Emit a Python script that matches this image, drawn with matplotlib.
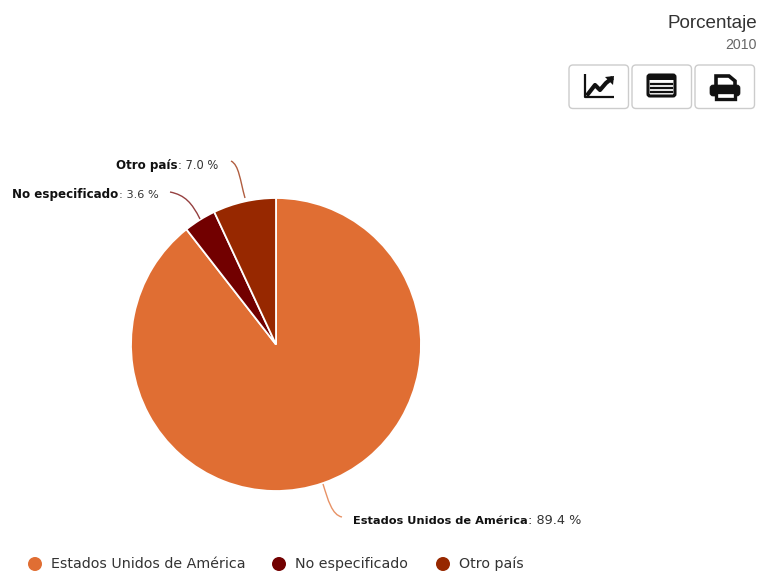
import matplotlib
matplotlib.use("Agg")
import matplotlib.pyplot as plt
from matplotlib.patches import Circle, FancyBboxPatch, PathPatch, Polygon, Rectangle
from matplotlib.path import Path

categories = ["Estados Unidos de América", "No especificado", "Otro país"]
values = [89.4, 3.6, 7.0]
colors = ["#E06E33", "#720000", "#972800"]
title = "Porcentaje"
year = "2010"

W, H = 757, 571
fig = plt.figure(figsize=(W / 100, H / 100), dpi=100)

# pixel overlay for text, buttons and connectors
ov = fig.add_axes([0, 0, 1, 1], zorder=2)
ov.set_xlim(0, W)
ov.set_ylim(H, 0)
ov.axis("off")

cx, cy, rx, ry = 276, 344.5, 145, 146.5
pie_ax = fig.add_axes([(cx - rx) / W, 1 - (cy + ry) / H, 2 * rx / W, 2 * ry / H], zorder=1)
pie_ax.pie(values, colors=colors, startangle=90, counterclock=False, radius=1,
           wedgeprops={"edgecolor": "white", "linewidth": 1.3})
pie_ax.set_aspect("auto")
pie_ax.set_xlim(-1, 1)
pie_ax.set_ylim(-1, 1)


def connector(pts, color):
    codes = [Path.MOVETO, Path.CURVE4, Path.CURVE4, Path.CURVE4]
    ov.add_patch(PathPatch(Path(pts, codes), fc="none", ec=color, lw=1, alpha=0.75))


def pct_label(x, y, name, val, size, val_size):
    t = ov.text(x, y, name, fontsize=size, fontweight="bold", family="DejaVu Sans",
                color="#111111", va="center", ha="left")
    ext = t.get_window_extent(fig.canvas.get_renderer())
    ov.text(ext.x1 + 0.5, y, ": %.1f %%" % val, fontsize=val_size, family="DejaVu Sans",
            color="#333333", va="center", ha="left")


connector([(231, 161), (239, 165), (240, 180), (245, 198)], colors[2])
connector([(170, 192), (185, 195), (192, 203), (200, 219)], colors[1])
connector([(323, 484), (328, 500), (332, 515), (342, 517)], colors[0])

pct_label(116, 165.5, categories[2], values[2], 8.6, 8.3)
pct_label(12, 194.5, categories[1], values[1], 8.6, 8.1)
pct_label(353, 521, categories[0], values[0], 8.2, 9.3)

# legend row
legend_x = [35, 279, 443]
for lx, name, c in zip(legend_x, categories, colors):
    ov.add_patch(Circle((lx, 564), 7, color=c, lw=0))
    ov.text(lx + 16, 564, name, fontsize=10.25, family="DejaVu Sans", color="#333333",
            va="center", ha="left")

ov.text(757, 23, title, fontsize=13.6, family="Liberation Sans", color="#333333", ha="right", va="center")
ov.text(757, 45, year, fontsize=10.2, family="Liberation Sans", color="#666666", ha="right", va="center")

# toolbar buttons
for bx in [569, 632, 695]:
    ov.add_patch(FancyBboxPatch((bx, 65), 59.5, 43.5, boxstyle="round,pad=0,rounding_size=4",
                                fc="white", ec="#CCCCCC", lw=1))

# chart icon
ov.plot([585, 585, 614], [74, 97, 97], color="#111111", lw=1.6, solid_capstyle="butt")
ov.plot([588, 595, 600, 606, 611], [94, 85, 90, 83, 79], color="#111111", lw=3)
ov.add_patch(Polygon([(605, 77), (614, 76), (613, 85)], color="#111111", lw=0))

# table icon
ov.add_patch(FancyBboxPatch((648, 75), 27, 21, boxstyle="round,pad=0,rounding_size=2",
                            fc="white", ec="#111111", lw=2.2))
ov.add_patch(Rectangle((648, 75), 27, 5, color="#111111", lw=0))
for ly in [84, 88, 92]:
    ov.plot([651, 653], [ly, ly], color="#111111", lw=1.6)
    ov.plot([655, 672], [ly, ly], color="#111111", lw=1.6)

# printer icon
ov.add_patch(Polygon([(716, 76), (729, 76), (735, 81), (735, 90), (716, 90)],
                     fc="white", ec="#111111", lw=2.6))
ov.add_patch(FancyBboxPatch((710, 85), 30, 11, boxstyle="round,pad=0,rounding_size=3",
                            fc="#111111", ec="#111111", lw=0.5))
ov.add_patch(Rectangle((716, 92), 19, 7, fc="white", ec="#111111", lw=2.4))

fig.savefig("out.png", dpi=100)
